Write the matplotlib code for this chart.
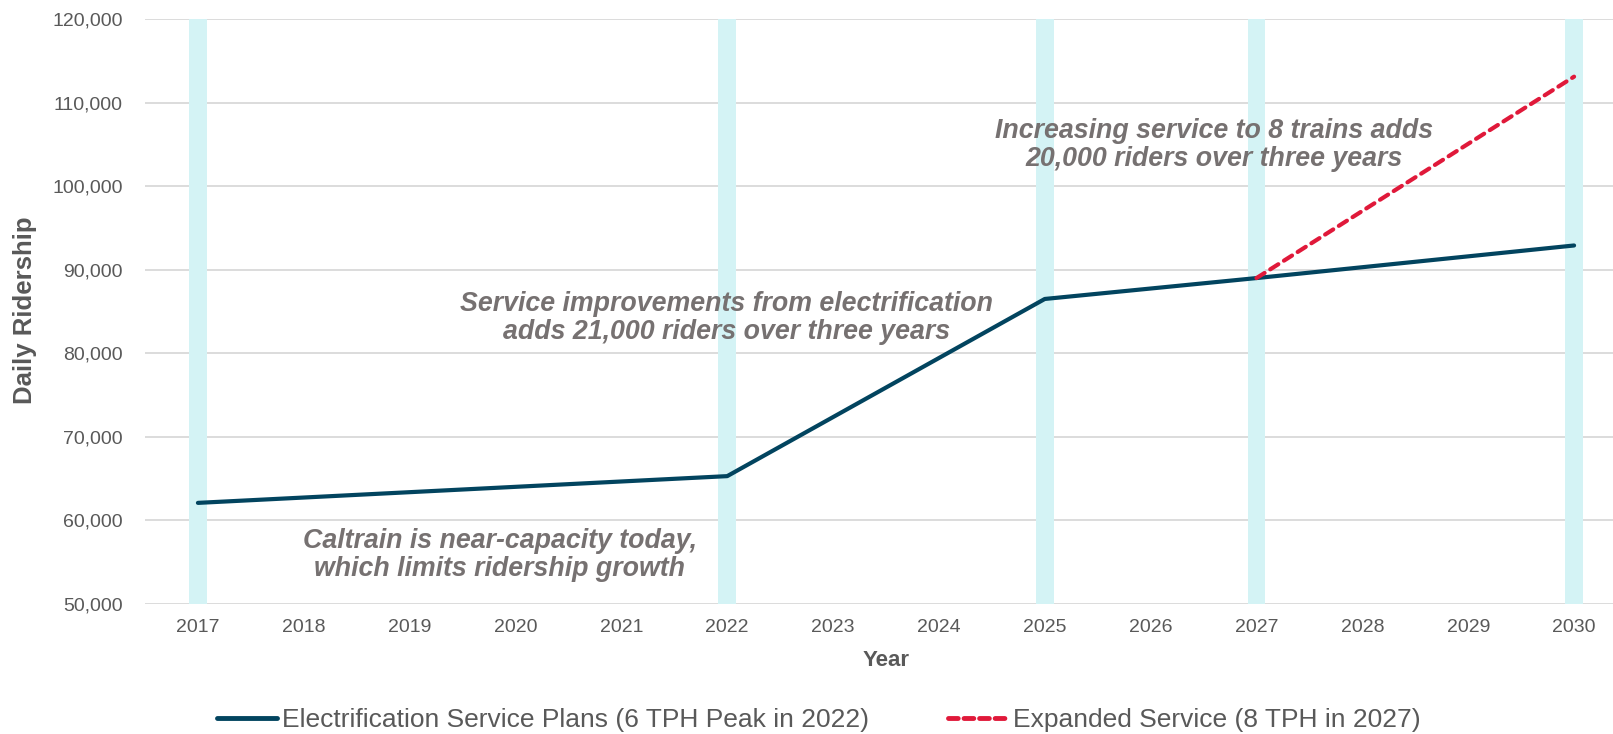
import matplotlib
matplotlib.use("Agg")
import matplotlib.pyplot as plt
from matplotlib.lines import Line2D

plt.rcParams['font.family'] = ['Liberation Sans', 'DejaVu Sans']

years = list(range(2017, 2031))
highlight_years = [2017, 2022, 2025, 2027, 2030]
base_years = [2017, 2022, 2025, 2027, 2030]
base_values = [62100, 65300, 86500, 89000, 92900]
exp_years = [2027, 2030]
exp_values = [89000, 113100]
yticks = [50000, 60000, 70000, 80000, 90000, 100000, 110000, 120000]

base_label = "Electrification Service Plans (6 TPH Peak in 2022)"
exp_label = "Expanded Service (8 TPH in 2027)"

notes = [
    (2019.85, 55880, "Caltrain is near-capacity today,\nwhich limits ridership growth"),
    (2021.99, 84250, "Service improvements from electrification\nadds 21,000 riders over three years"),
    (2026.6, 104880, "Increasing service to 8 trains adds\n20,000 riders over three years"),
]

W, H = 1613, 734
fig = plt.figure(figsize=(W / 100, H / 100), dpi=100)
ax = fig.add_axes([145 / W, 1 - 604 / H, (1627 - 145) / W, (604 - 19) / H])

DARK = "#02445F"
RED = "#E0193A"
CYAN = "#D4F3F5"
GRID = "#D9D9D9"
TXT = "#595959"
NOTE = "#767171"

ax.set_xlim(2016.5, 2030.5)
ax.set_ylim(50000, 120000)
ax.set_yticks(yticks)
ax.set_yticklabels([f"{v:,}" for v in yticks])
ax.set_xticks(years)
ax.set_xticklabels([str(y) for y in years])
ax.grid(axis='y', color=GRID, linewidth=1.3, zorder=0)
ax.set_axisbelow(True)
for s in ax.spines.values():
    s.set_visible(False)
ax.tick_params(axis='both', length=0, colors=TXT, labelsize=14)
ax.tick_params(axis='x', pad=11)
ax.tick_params(axis='y', pad=16)

ax.bar(highlight_years, [120000 - 50000] * len(highlight_years), bottom=50000,
       width=0.167, color=CYAN, zorder=1)

ax.plot(base_years, base_values, color=DARK, linewidth=3.0, solid_capstyle='round', zorder=3)
ax.plot(exp_years, exp_values, color=RED, linewidth=3.0, linestyle=(0, (2.3, 1.6)),
        dash_capstyle='round', zorder=4)

for x, y, t in notes:
    ax.text(x, y, t, ha='center', va='center', fontsize=19.3, fontweight='bold',
            fontstyle='italic', color=NOTE, linespacing=1.1, zorder=5)

ax.set_xlabel("Year", fontsize=16, fontweight='bold', color=TXT, labelpad=10)
fig.text(25 / W, 1 - 310 / H, "Daily Ridership", rotation=90, ha='center', va='center',
         fontsize=18.5, fontweight='bold', color=TXT)

handles = [Line2D([0], [0], color=DARK, linewidth=3.5, solid_capstyle='round'),
           Line2D([0], [0], color=RED, linewidth=3.5, linestyle=(0, (2.0, 1.2)),
                  dash_capstyle='round')]
fig.legend(handles, [base_label, exp_label], loc='center', bbox_to_anchor=(819 / W, 1 - 720 / H),
           ncol=2, frameon=False, fontsize=19, handlelength=2.27, handletextpad=0.19,
           columnspacing=3.0, labelcolor=TXT)

fig.savefig("out.png", dpi=100)
